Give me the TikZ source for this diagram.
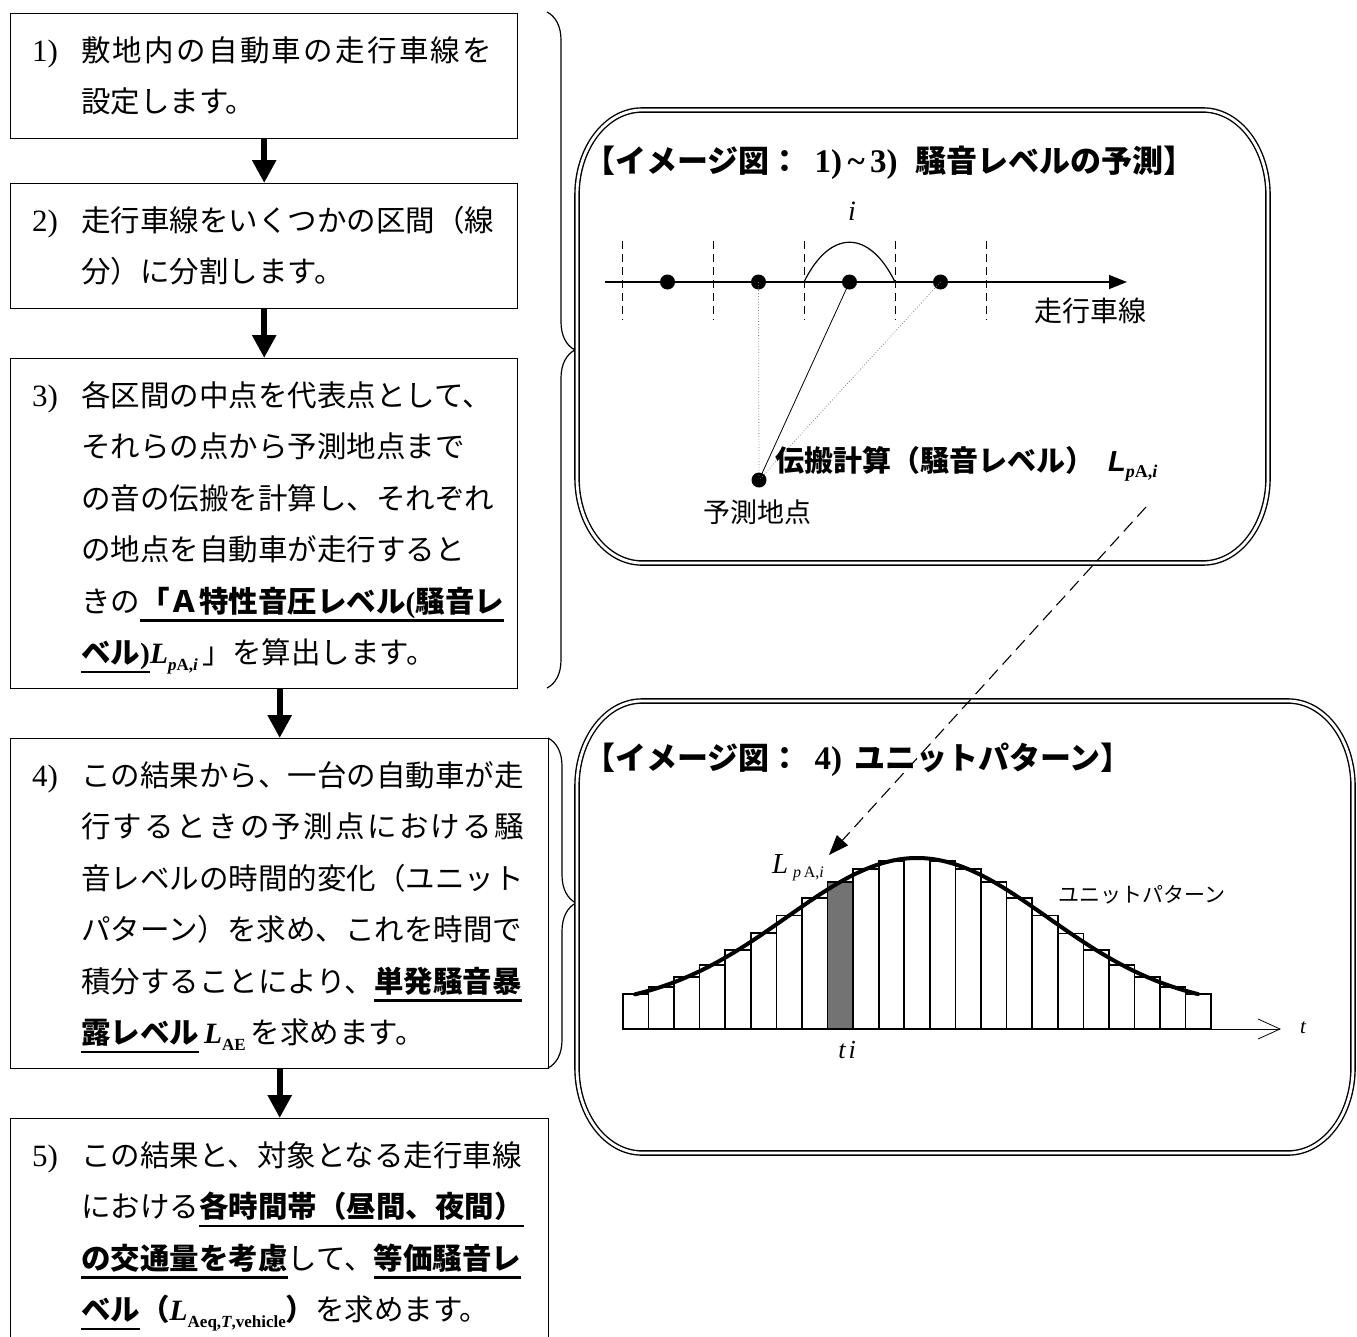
\documentclass[tikz,border=0pt]{standalone}
\usepackage{fontspec}
\setmainfont{Liberation Serif}
\newfontfamily\jp{Noto Sans CJK JP}
\newfontfamily\lsans{Liberation Sans}
\usetikzlibrary{arrows.meta,decorations.pathreplacing}
\newcommand\lsx{\kern2.3pt}
\newcommand\ulx[1]{\leavevmode\setbox0\hbox{#1}\rlap{\vrule width\wd0 height -7pt depth 9.5pt}\box0}
\newcommand\Lsub[2]{{\rmfamily\bfseries\itshape #1}\raisebox{-0.22em}{\rmfamily\bfseries\fontsize{17}{17}\selectfont #2}}
\newcommand\drawpanel[4]{%
 \draw[panelline] ({#1+65},#2) -- ({#3-65},#2) .. controls ({#3-29},#2) and (#3,{#2+38}) .. (#3,{#2+85})
   -- (#3,{#4-85}) .. controls (#3,{#4-38}) and ({#3-29},#4) .. ({#3-65},#4)
   -- ({#1+65},#4) .. controls ({#1+29},#4) and (#1,{#4-38}) .. (#1,{#4-85})
   -- (#1,{#2+85}) .. controls (#1,{#2+38}) and ({#1+29},#2) .. cycle;}
\begin{document}
\begin{tikzpicture}[x=1pt,y=-1pt,
  stepbox/.style={draw, line width=1.4pt, anchor=north west, inner sep=0pt},
  txt/.style={anchor=base west, inner sep=0pt, font=\jp\fontsize{29.5}{30}\selectfont},
  numlbl/.style={anchor=base west, inner sep=0pt, font=\rmfamily\fontsize{31}{32}\selectfont},
  flow/.style={line width=6pt, -{Triangle[width=23pt,length=23pt]}},
  bracel/.style={line width=1.2pt, decorate, decoration={brace, amplitude=28pt}},
  panelline/.style={line width=1.4pt, double, double distance=2.8pt},
  titlefont/.style={anchor=base west, inner sep=0pt, font=\jp\bfseries\fontsize{31}{32}\selectfont},
  dot/.style={circle, fill, inner sep=0pt, minimum size=15pt},
  vdash/.style={line width=0.8pt, dash pattern=on 8pt off 5pt},
  thinline/.style={line width=0.8pt},
  dotline/.style={line width=0.8pt, gray, dotted},
  barline/.style={line width=1.6pt},
  dasharrow/.style={line width=1.1pt, dash pattern=on 13pt off 7pt, -{Triangle[length=20pt,width=15pt]}}
]
\useasboundingbox (0,0) rectangle (1357,1336);
\clip (0,0) rectangle (1357,1336);
\fill[white] (0,0) rectangle (1357,1336);

% ---------- left flow boxes ----------
\node[stepbox, minimum width=507pt, minimum height=125pt] (box1) at (10,13) {};
\node[stepbox, minimum width=507pt, minimum height=125pt] (box2) at (10,183) {};
\node[stepbox, minimum width=507pt, minimum height=330pt] (box3) at (10,358) {};
\node[stepbox, minimum width=538pt, minimum height=330pt] (box4) at (10,738) {};
\node[stepbox, minimum width=538pt, minimum height=232pt] (box5) at (10,1118) {};

\draw[flow] (box1.south) -- (box2.north);
\draw[flow] (box2.south) -- (box3.north);
\draw[flow] (box3.south -| box4.north) -- (box4.north);
\draw[flow] (box4.south) -- (box5.north);

% box 1
\node[numlbl] (n1) at (32,61) {1)};
\node[txt] (b1a) at (81,61) {敷\lsx{}地\lsx{}内\lsx{}の\lsx{}自\lsx{}動\lsx{}車\lsx{}の\lsx{}走\lsx{}行\lsx{}車\lsx{}線\lsx{}を};
\node[txt] (b1b) at (81,112.5) {設定します。};
% box 2
\node[numlbl] (n2) at (32,231) {2)};
\node[txt] (b2a) at (81,231) {走行車線をいくつかの区間（線};
\node[txt] (b2b) at (81,282.5) {分）に分割します。};
% box 3
\node[numlbl] (n3) at (32,406) {3)};
\node[txt] (b3a) at (81,406) {各区間の中点を代表点として、};
\node[txt] (b3b) at (81,457.5) {それらの点から予測地点まで};
\node[txt] (b3c) at (81,509) {の音の伝搬を計算し、それぞれ};
\node[txt] (b3d) at (81,560.5) {の地点を自動車が走行すると};
\node[txt] (b3e) at (81,612) {きの\ulx{\bfseries 「Ａ特性音圧レベル{\rmfamily (}騒音レ}};
\node[txt] (b3f) at (81,663.5) {\ulx{\bfseries ベル{\rmfamily )}}\Lsub{L}{\itshape p\upshape A,\itshape i}\,」を算出します。};
% box 4
\node[numlbl] (n4) at (32,786) {4)};
\node[txt] (b4a) at (81,786) {この結果から、一台の自動車が走};
\node[txt] (b4b) at (81,837.5) {行\lsx{}す\lsx{}る\lsx{}と\lsx{}き\lsx{}の\lsx{}予\lsx{}測\lsx{}点\lsx{}に\lsx{}お\lsx{}け\lsx{}る\lsx{}騒};
\node[txt] (b4c) at (81,889) {音レベルの時間的変化（ユニット};
\node[txt] (b4d) at (81,940.5) {パターン）を求め、これを時間で};
\node[txt] (b4e) at (81,992) {積分することにより、\ulx{\bfseries 単発騒音暴}};
\node[txt] (b4f) at (81,1043.5) {\ulx{\bfseries 露レベル}\,\Lsub{L}{AE}\,を求めます。};
% box 5
\node[numlbl] (n5) at (32,1166) {5)};
\node[txt] (b5a) at (81,1166) {この結果と、対象となる走行車線};
\node[txt] (b5b) at (81,1217.5) {における\ulx{\bfseries 各時間帯（昼間、夜間）}};
\node[txt] (b5c) at (81,1269) {\ulx{\bfseries の交通量を考慮}して、\ulx{\bfseries 等価騒音レ}};
\node[txt] (b5d) at (81,1320.5) {\ulx{\bfseries ベル}{\bfseries （}\Lsub{L}{Aeq,\textit{T},vehicle}{\bfseries ）}を求めます。};

% braces
\draw[bracel] (547,12) -- (547,688);
\draw[bracel] (548,738) -- (548,1068);

% ---------- panel 1 ----------
\drawpanel{577}{110}{1268}{563}
\node[titlefont] (title1) at (584,172) {【イメージ図：\hspace{14pt}{\rmfamily\fontsize{33}{33}\selectfont 1)\,\textasciitilde\,3)}\hspace{18pt}騒音レベルの予測】};

\draw[vdash] (622,241) -- (622,320);
\draw[vdash] (713,241) -- (713,320);
\draw[vdash] (804,241) -- (804,320);
\draw[vdash] (895,241) -- (895,320);
\draw[vdash] (986,241) -- (986,320);
\draw[line width=1.4pt, -{Triangle[length=18pt,width=14pt]}] (605,282) -- (1127,282);
\draw[line width=1.2pt] (804,282) .. controls (830,229) and (869,229) .. (895,282);
\node[font=\rmfamily\itshape\fontsize{28}{28}\selectfont] (ilbl) at (852,211) {i};

\node[dot] (d1) at (667.5,282) {};
\node[dot] (d2) at (758.5,282) {};
\node[dot] (d3) at (849.5,282) {};
\node[dot] (d4) at (940.5,282) {};
\node[dot] (pt) at (759,480) {};
\draw[dotline] (d2.center) -- (pt.center);
\draw[dotline] (d4.center) -- (pt.center);
\draw[thinline] (d3.center) -- (pt.center);

\node[font=\jp\fontsize{28}{29}\selectfont] (lane) at (1090,311) {走行車線};
\node[font=\jp\fontsize{27}{28}\selectfont] (predlbl) at (757,512) {予測地点};
\node[anchor=base west, inner sep=0pt, font=\jp\bfseries\fontsize{29}{30}\selectfont] (prop) at (775,471)
  {伝搬計算（騒音レベル）\hspace{14pt}{\lsans\bfseries\itshape L}\raisebox{-6pt}{\rmfamily\bfseries\fontsize{18}{18}\selectfont\itshape p\upshape A,\itshape i}};

% ---------- panel 2 ----------
\drawpanel{577}{701}{1353}{1153}
\node[titlefont] (title2) at (584,769) {【イメージ図：\hspace{14pt}{\rmfamily\fontsize{33}{33}\selectfont 4)}\hspace{12pt}ユニットパターン】};

% shaded bar (i = 8)
\pgfmathsetmacro\sxl{622.9+25.58*8}
\pgfmathsetmacro\sxr{\sxl+25.58}
\pgfmathsetmacro\syt{1009-151*exp(0-((\sxl+12.79-917)/100)^2/3.4113)}
\fill[black!55] (\sxl,1029) rectangle (\sxr,\syt);
\foreach \i in {0,...,22}{
  \pgfmathsetmacro\xl{622.9+25.58*\i}
  \pgfmathsetmacro\xr{\xl+25.58}
  \pgfmathsetmacro\yt{1009-151*exp(0-((\xl+12.79-917)/100)^2/3.4113)}
  \draw[barline] (\xl,1029) rectangle (\xr,\yt);
}
\draw[line width=4pt, line cap=round] plot[domain=635:1198, samples=60, smooth] (\x,{1009-151*exp(0-((\x-917)/100)^2/3.4113)});
\draw[line width=1.8pt] (622.9,1029) -- (1211.2,1029);
\draw[line width=0.7pt, -{Straight Barb[length=22pt,width=20pt,line width=0.8pt]}] (1211,1029) -- (1281,1029);
\node[font=\rmfamily\itshape\fontsize{21}{21}\selectfont] (tax) at (1303,1028) {t};
\node[font=\rmfamily\itshape\fontsize{26}{26}\selectfont] (tilbl) at (847,1050) {t\hspace{3pt}i};
\node[font=\rmfamily\fontsize{29}{29}\selectfont] (lpa2) at (798,868) {\textit{L}\,\raisebox{-4pt}{\fontsize{16}{16}\selectfont\textit{p}\,A,\textit{i}}};
\node[font=\jp\fontsize{21}{22}\selectfont] (unitlbl) at (1142,895) {ユニットパターン};

% ---------- dashed connector ----------
\coordinate (dstart) at (1146,507);
\coordinate (dend) at (829,855);
\draw[dasharrow] (dstart) -- (dend);
\end{tikzpicture}
\end{document}
